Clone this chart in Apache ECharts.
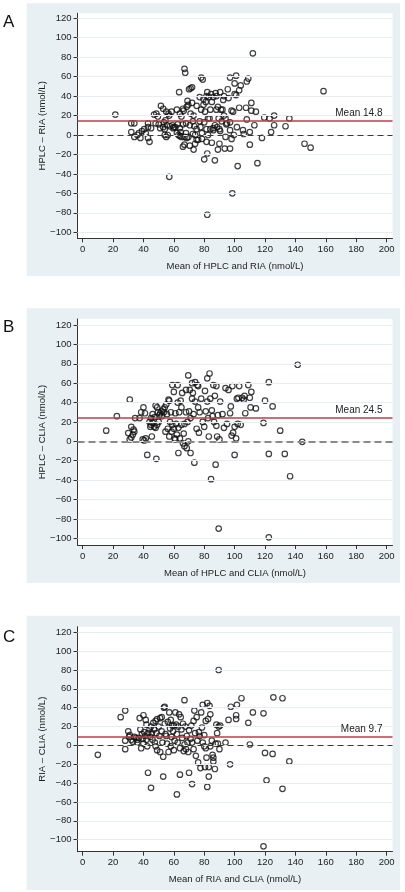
<!DOCTYPE html>
<html><head><meta charset="utf-8">
<script src="https://cdn.jsdelivr.net/npm/echarts@6/dist/echarts.min.js"></script>
<style>html,body{margin:0;padding:0;background:#fff}#c{width:405px;height:892px}</style>
</head><body><div id="c"></div>
<script>
// ---------- data ----------
const xTicks = [0, 20, 40, 60, 80, 100, 120, 140, 160, 180, 200];
const yTicks = [-100, -80, -60, -40, -20, 0, 20, 40, 60, 80, 100, 120];
const panelLetters = ['A', 'B', 'C'];
const xTitles = ['Mean of HPLC and RIA (nmol/L)', 'Mean of HPLC and CLIA (nmol/L)', 'Mean of RIA and CLIA (nmol/L)'];
const yTitles = ['HPLC \u2013 RIA (nmol/L)', 'HPLC \u2013 CLIA (nmol/L)', 'RIA \u2013 CLIA (nmol/L)'];
const meanDiffs = [14.8, 24.5, 9.7];

const pointsA = [[21.5,21],[32,12],[34,12],[32,3],[34,-2],[36,0],[37,2],[38,-3],[39,4],[40.5,6],[41.5,2],[43,8],[43,12],[43,-3],[44,-7],[45,7],[47,21],[48,12],[48.5,22],[49.5,19],[50,11],[51,7],[51.5,30],[53,27],[53,8],[53.5,13],[54,6],[55,24],[54.5,15],[54,0],[55,-2],[55.5,10],[56,0],[56.5,22],[57,20],[57,-43],[57.5,9],[58.5,24],[59,10],[59.5,7],[60,8],[61,8],[62,26],[62,2],[62.5,11],[63,0],[63.5,44],[64,22],[64,7],[64,-1],[64.5,3],[65,19],[65,-2],[66,-12],[66,27],[66,11],[66.5,25],[67,-10],[67,-2],[67,68],[67.5,64],[68,12],[68.5,29],[68,2],[68.5,-3],[69,35],[69.5,31],[69.5,-2],[70,47],[70.5,10],[70.5,-11],[71,48],[71,22],[72,49],[72.5,14],[72,33],[72.5,1],[73,-15],[73,20],[73.5,9],[74,0],[74,-9],[75,30],[75,6],[75,-5],[76,-5],[77,39],[77,14],[77.5,8],[78,59],[78,26],[78.5,2],[78.5,-4],[79,57],[79.5,37],[79.5,31],[80,-25],[80,13],[80.5,24],[81,34],[81.5,40],[81.5,6],[81.5,-7],[82,-19],[82,44],[82,-82],[82.5,17],[82.5,0],[83,39],[83.5,17],[84,26],[84,6],[84.5,42],[85,-8],[85,34],[86,5],[86,39],[86,7],[87,10],[87,-26],[87.5,43],[88,40],[88,26],[88.5,8],[89,29],[89,-15],[89.5,17],[90,6],[90,-9],[90.5,44],[90.5,4],[91,26],[91.5,14],[92,26],[92.5,36],[93,40],[93,20],[93.5,-14],[94,-2],[94,17],[94.5,11],[95,12],[95.5,47],[96,38],[97,59],[97,13],[97,5],[97,-14],[98,25],[98,-4],[98.5,-60],[99,24],[99.5,0],[100,53],[100,42],[101,61],[101,41],[101.5,8],[102,-32],[103,46],[103,28],[104,51],[105.5,5],[106,1],[107.5,28],[108,55],[108,16],[109,58],[110,3],[110,-10],[111,33],[111,25],[112,84],[113,10],[114,24],[115,-29],[118,-3],[119.5,18],[123,17],[124,3],[126,20],[126,10],[133.5,9],[136,17],[146,-9],[150,-13],[158.5,45]];

const pointsB = [[15.5,11],[22.5,26],[30,8.5],[31,43],[31,2],[32,4],[32,15],[33,7],[33.5,12],[34,10],[34.5,24],[37.5,24],[38.5,30],[39.5,2],[40,35],[40.5,1],[41,29],[41.5,3],[42.5,-14],[44,20],[44.5,15],[45,17],[45,24],[45.5,5],[46,28],[46,19],[47,15],[47.5,25],[48,37],[48,14],[48.5,-18],[49,35],[49,17],[49.5,30],[50,20],[50.5,27],[51,29],[52,31],[52,26],[53,33],[53.5,30],[54,35],[54.5,10],[55,38],[55.5,28],[56,13],[56.5,43],[57,42],[57,5],[57.5,20],[58,30],[58.5,10],[59,58],[59,17],[60,51],[60,13],[60.5,3],[61,29],[61,2],[61.5,18],[62,7],[62.5,58],[62.5,40],[63,-12],[63,14],[63.5,30],[64,3],[64.5,42],[65,35],[65,17],[65.5,50],[66,-2],[66.5,8],[67,-5],[67,18],[68,53],[68,30],[68.5,-7],[69,20],[69.5,68],[69.5,0],[70,31],[70.5,53],[71,-12],[71,24],[72,60],[72,44],[72.5,50],[73,28],[73.5,-22],[74,61],[74,41],[75,13],[75.5,58],[76,57],[76,35],[76.5,9],[77,30],[78,44],[79,20],[80,15],[80.5,52],[81,31],[82,65],[82,41],[82.5,24],[83,5],[83.5,70],[84,44],[84.5,-39],[85,32],[85.5,26],[86,58],[86.5,20],[87,47],[87.5,-24],[88,57],[88,16],[88.5,5],[89,27],[89.5,-90],[90,2],[90.5,41],[92,28],[93,14],[94,55],[95,18],[96,53],[97,29],[97.5,36],[98,6],[98.5,57],[99,9],[100,15],[100,-14],[101,3],[101.5,44],[102,18],[102.5,45],[103,57],[104,17],[105,45],[106,43],[106.5,47],[107,29],[109,58],[110,45],[110.5,35],[111,51],[114,34],[119,19],[120,42],[122.5,61],[122.5,-13],[122.5,-99],[125,36],[130,11],[133,-13],[136.5,-36],[141.5,79],[144.5,-0.5]];

const pointsC = [[10,-10],[25,30],[28,37],[28,5],[28,-4],[30,15],[30.5,9],[31,11],[32,6],[33,4],[34,9],[35,8],[36,3],[36,6],[37,8],[37.5,29],[38,17],[38.5,-3],[39,12],[39.5,7],[40,32],[40,2],[40.5,14],[41,10],[41.5,27],[42,22],[42,6],[42.5,-1],[43,-29],[43,13],[44,17],[44.5,9],[45,-45],[45,20],[45.5,13],[46,6],[46.5,24],[47,17],[47.5,3],[48,26],[48,-1],[48.5,13],[49,28],[49,-5],[50,20],[50.5,10],[51,29],[51,-7],[52,30],[52,15],[52.5,3],[53,-33],[53,-12],[53.5,40],[54,41],[54,23],[54.5,12],[55,10],[55.5,2],[56,25],[56.5,-7],[57,35],[57.5,18],[58,27],[58,-1],[58.5,9],[59,21],[59.5,15],[60,21],[60,-5],[60.5,5],[61,35],[61.5,22],[62,-52],[62,12],[62.5,3],[63,20],[63.5,33],[64,-31],[64,-3],[64.5,30],[65,17],[65.5,8],[66,23],[66.5,-6],[67,48],[67,1],[67.5,20],[68,-4],[68.5,10],[69,3],[69.5,-7],[70,-29],[70,16],[71,7],[71.5,21],[72,-41],[72,3],[73,26],[73,-4],[73.5,37],[74,13],[74.5,-11],[75,30],[75.5,5],[76,-18],[76.5,14],[77,10],[77.5,-24],[78,35],[78.5,19],[79,43],[79,3],[80,11],[80,-1],[80.5,-23],[81,26],[81,-3],[81.5,-13],[82,45],[82,-44],[82.5,28],[83,-33],[83,-23],[83.5,42],[84,33],[84,-1],[85,5],[85.5,-10],[86,-13],[86,-17],[87,-25],[87.5,2],[88,22],[88.5,13],[89,2],[89.5,80],[89.5,20],[90,-4],[90.5,21],[94,3],[96,27],[97,-20],[97.5,41],[101,32],[101,28],[101.5,43],[104.5,50],[109,24],[110,1],[112,35],[119,34],[119,-107],[120,-8],[121,-37],[125,-9],[125.5,51],[131.5,50],[131.5,-46],[136,-17]];

const panelPoints = [pointsA, pointsB, pointsC];

// ---------- layout / style ----------
const FONT = '"Liberation Sans", Arial, sans-serif';
const plotLeft = 77.5, plotWidth = 315;
const plotTops = [13.3, 319, 626.7];
const plotHeights = [225, 226, 225];
const xRange = [-3.4, 203.9];
const yRanges = [[-106.2, 125.1], [-106.9, 126.2], [-112.7, 125.9]];
const boxTops = [3.3, 308.3, 615.7];
const boxHeights = [272.7, 274.7, 274.3];
const letterY = [22.5, 328, 637.5];
const zeroStyles = [
  {color: '#3a3a3a', width: 1, type: [6, 4]},
  {color: '#8a8a8a', width: 1.8, type: [7, 4]},
  {color: '#3a3a3a', width: 1, type: [6, 4]}
];
const minusFmt = v => (v < 0 ? '\u2212' + Math.abs(v) : String(v));

const grids = [], xAxes = [], yAxes = [], series = [], graphics = [];
for (let i = 0; i < 3; i++) {
  grids.push({left: plotLeft, top: plotTops[i], width: plotWidth, height: plotHeights[i], containLabel: false});
  graphics.push({type: 'rect', z: -20, silent: true,
    shape: {x: 26.7, y: boxTops[i], width: 373.3, height: boxHeights[i]},
    style: {fill: '#e9f0f3'}});
  graphics.push({type: 'rect', z: -19, silent: true,
    shape: {x: plotLeft, y: plotTops[i], width: plotWidth, height: plotHeights[i]},
    style: {fill: '#ffffff'}});
  graphics.push({type: 'text', z: 10, left: 3, top: letterY[i] - 9,
    style: {text: panelLetters[i], fill: '#111', font: '17px "Liberation Sans"'}});

  xAxes.push({gridIndex: i, type: 'value', min: xRange[0], max: xRange[1],
    axisLine: {onZero: false, lineStyle: {color: '#333', width: 1}},
    axisTick: {show: true, length: 4, customValues: xTicks, lineStyle: {color: '#333'}},
    axisLabel: {customValues: xTicks, margin: 6, fontSize: 9.5, color: '#222', fontFamily: FONT, formatter: minusFmt},
    splitLine: {show: false},
    name: xTitles[i], nameLocation: 'middle', nameGap: 23, nameMoveOverlap: false,
    nameTextStyle: {fontSize: 9.5, color: '#222', fontFamily: FONT}
  });
  yAxes.push({gridIndex: i, type: 'value', min: yRanges[i][0], max: yRanges[i][1],
    axisLine: {onZero: false, lineStyle: {color: '#333', width: 1}},
    axisTick: {show: true, length: 4, customValues: yTicks, lineStyle: {color: '#333'}},
    axisLabel: {customValues: yTicks, margin: 6, fontSize: 9.5, color: '#222', fontFamily: FONT, formatter: minusFmt},
    splitLine: {show: false},
    name: yTitles[i], nameLocation: 'middle', nameGap: 30, nameMoveOverlap: false,
    nameTextStyle: {fontSize: 9.5, color: '#222', fontFamily: FONT}
  });
  // gridlines
  series.push({type: 'scatter', xAxisIndex: i, yAxisIndex: i, data: [], z: 1, silent: true,
    markLine: {silent: true, symbol: 'none', animation: false, label: {show: false},
      lineStyle: {color: '#e6eef1', width: 1, type: 'solid'},
      data: yTicks.map(v => ({yAxis: v}))}
  });
  // zero + mean lines
  series.push({type: 'scatter', xAxisIndex: i, yAxisIndex: i, data: [], z: 2, silent: true,
    markLine: {silent: true, symbol: 'none', animation: false,
      data: [
        {yAxis: 0, lineStyle: zeroStyles[i], label: {show: false}},
        {yAxis: meanDiffs[i], lineStyle: {color: '#c03a4a', width: 1.5, type: 'solid'},
          label: {show: true, position: 'insideEndTop', distance: [10, 2], formatter: 'Mean ' + meanDiffs[i],
            fontSize: 10, color: '#222', fontFamily: FONT}}
      ]}
  });
  // points
  series.push({type: 'scatter', xAxisIndex: i, yAxisIndex: i, z: 3, animation: false,
    symbol: 'circle', symbolSize: 5.5,
    itemStyle: {color: 'rgba(0,0,0,0)', borderColor: '#111', borderWidth: 1.2},
    data: panelPoints[i]});
}

const chart = echarts.init(document.getElementById('c'), null, {renderer: 'canvas'});
chart.setOption({animation: false, grid: grids, xAxis: xAxes, yAxis: yAxes, series: series, graphic: graphics});
</script></body></html>
